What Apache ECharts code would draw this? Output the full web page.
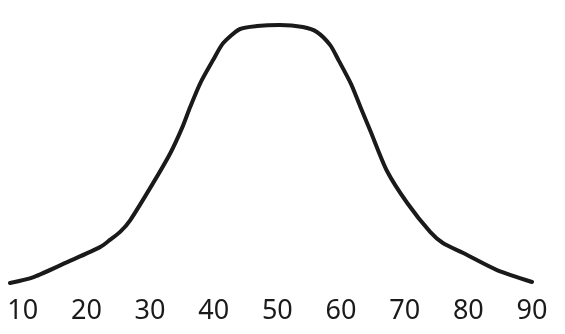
<!DOCTYPE html>
<html>
<head>
<meta charset="utf-8">
<style>
  html, body { margin: 0; padding: 0; background: #ffffff; }
  #chart { width: 565px; height: 334px; }
</style>
<script src="https://cdn.jsdelivr.net/npm/echarts@6/dist/echarts.min.js"></script>
</head>
<body>
<div id="chart"></div>
<script>
const xValues = [8.0, 11.7, 17.0, 22.2, 23.7, 25.3, 26.9, 30.5, 33.2, 35.1, 36.3, 37.9, 39.9, 41.5, 44.1, 46.8, 50.4, 54.0, 56.2, 58.3, 59.6, 61.6, 63.0, 64.6, 67.2, 70.4, 74.0, 76.0, 79.2, 84.5, 90.0];
// curve heights at those positions (relative, 0..100)
const yValues = [0, 2.3, 8.1, 14.0, 16.7, 19.8, 24.4, 38.8, 50.4, 60.5, 68.2, 77.5, 86.4, 93.0, 98.4, 99.6, 100, 99.2, 97.3, 92.2, 86.4, 77.0, 68.5, 59.0, 43.5, 31.0, 19.8, 15.5, 11.6, 5.0, 0.4];
// tick labels on the x axis
const tickLabels = [10, 20, 30, 40, 50, 60, 70, 80, 90];

const seriesData = xValues.map((x, i) => [x, yValues[i]]);

const chart = echarts.init(document.getElementById('chart'), null, { renderer: 'canvas' });
chart.setOption({
  animation: false,
  backgroundColor: '#ffffff',
  grid: { left: 10, right: 33, top: 25, bottom: 51, containLabel: false },
  xAxis: {
    type: 'value',
    min: 8,
    max: 90,
    interval: 1,
    axisLine: { show: false },
    axisTick: { show: false },
    splitLine: { show: false },
    axisLabel: {
      margin: 15,
      fontFamily: 'Noto Sans',
      fontSize: 27,
      color: '#1a1a1a',
      formatter: function (v) {
        return tickLabels.indexOf(v) >= 0 ? String(v) : '';
      }
    }
  },
  yAxis: {
    type: 'value',
    min: 0,
    max: 100,
    show: false,
    splitLine: { show: false }
  },
  series: [{
    type: 'line',
    data: seriesData,
    smooth: 0.25,
    showSymbol: false,
    lineStyle: { color: '#1a1a1a', width: 4, cap: 'round', join: 'round' }
  }]
});
</script>
</body>
</html>
